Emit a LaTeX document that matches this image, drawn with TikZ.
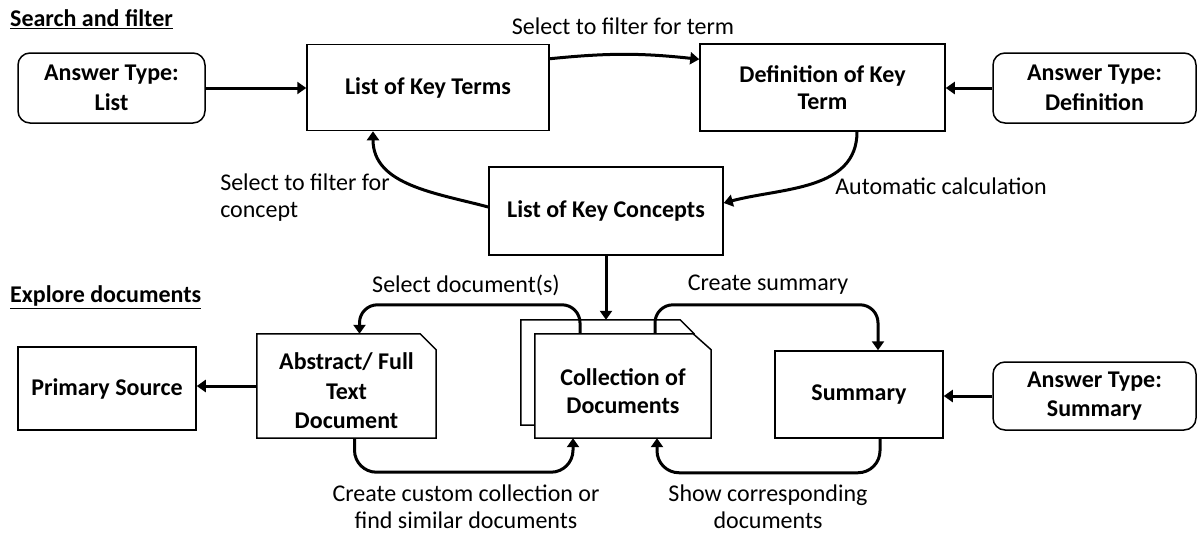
\documentclass[tikz,border=0pt]{standalone}
\usepackage{fontspec}
\setmainfont{Carlito}
\usetikzlibrary{arrows.meta,backgrounds}
\begin{document}
\begin{tikzpicture}[x=1pt,y=1pt,
  box/.style={draw,line width=1.5pt,inner sep=0pt,align=center,font=\fontsize{24}{29.5}\selectfont\bfseries},
  rbox/.style={box,rounded corners=12pt},
  shp/.style={inner sep=0pt},
  txt/.style={inner sep=0pt,align=center,font=\fontsize{24}{29.5}\selectfont\bfseries},
  outline/.style={line width=1.5pt,fill=white},
  arr/.style={line width=3pt,-{Triangle[length=9pt,width=12pt]}},
  lbl/.style={inner sep=0pt,align=center,font=\fontsize{24}{27}\selectfont},
  head/.style={inner sep=0pt,anchor=west,font=\fontsize{24}{28}\selectfont\bfseries}]
\useasboundingbox (0,0) rectangle (1204,-533);

\node[head] (h1) at (10,-19) {\underline{Search and filter}};
\node[head] (h2) at (10,-297) {\underline{Explore documents}};

\node[rbox,minimum width=187,minimum height=70] (al) at (111.5,-88) {Answer Type:\\List};
\node[box,minimum width=242,minimum height=86] (lkt) at (428,-87.5) {List of Key Terms};
\node[box,minimum width=245,minimum height=87,font=\fontsize{24}{27}\selectfont\bfseries] (dk) at (822.5,-87.5) {Definition of Key\\Term};
\node[rbox,minimum width=203,minimum height=70] (ad) at (1094.5,-88) {Answer Type:\\Definition};
\node[box,minimum width=234,minimum height=88] (lkc) at (606,-211) {List of Key Concepts};
\node[box,minimum width=178,minimum height=83] (ps) at (107,-388.5) {Primary Source};
\node[shp,minimum width=179,minimum height=104] (abs) at (346.5,-386) {};
\node[shp,minimum width=173,minimum height=105] (collb) at (607.5,-372.5) {};
\node[shp,minimum width=176,minimum height=104] (collf) at (623,-386) {};
\node[box,minimum width=168,minimum height=87] (sum) at (859,-394.5) {Summary};
\node[rbox,minimum width=203,minimum height=68] (as) at (1094.5,-396) {Answer Type:\\Summary};

\begin{scope}[on background layer]
\draw[outline] (collb.south west) -- (collb.north west) -- ([xshift=-14pt]collb.north east) -- ([yshift=-14pt]collb.north east) -- (collb.south east) -- cycle;
\draw[outline] (collf.south west) -- (collf.north west) -- ([xshift=-18pt]collf.north east) -- ([yshift=-16pt]collf.north east) -- (collf.south east) -- cycle;
\draw[outline] (abs.south west) -- (abs.north west) -- ([xshift=-16pt]abs.north east) -- ([yshift=-16pt]abs.north east) -- (abs.south east) -- cycle;
\end{scope}
\node[txt] (abst) at ([yshift=-5pt]abs.center) {Abstract/ Full\\Text\\Document};
\node[txt,font=\fontsize{24}{27.5}\selectfont\bfseries] (collt) at ([yshift=-5pt]collf.center) {Collection of\\Documents};

\draw[arr] (al.east) -- (al.east -| lkt.west);
\draw[arr] (ad.west) -- (ad.west -| dk.east);
\draw[arr] ([yshift=-15pt]lkt.north east) to[bend left=6] ([yshift=-16pt]dk.north west);
\draw[arr] ([xshift=34.5pt]dk.south) to[out=-90,in=15] ([yshift=8pt]lkc.east);
\draw[arr] ([yshift=4pt]lkc.west) to[out=165,in=-90] ([xshift=-55pt]lkt.south);
\draw[arr] (lkc.south) -- (lkc.south |- collb.north);
\draw[arr,rounded corners=18pt] ([xshift=-43pt]collf.north) -- ++(0,29) -| ([xshift=13pt]abs.north);
\draw[arr,rounded corners=18pt] ([xshift=32pt]collf.north) -- ++(0,29) -| ([xshift=19pt]sum.north);
\draw[arr,rounded corners=22pt] ([xshift=21pt]sum.south) -- ++(0,-34) -| ([xshift=34pt]collf.south);
\draw[arr,rounded corners=22pt] ([xshift=8pt]abs.south) -- ++(0,-34) -| ([xshift=-50pt]collf.south);
\draw[arr] (abs.west) -- (abs.west -| ps.east);
\draw[arr] (as.west) -- (as.west -| sum.east);

\node[lbl] (l1) at (623,-26) {Select to filter for term};
\node[lbl] (l2) at (941,-186) {Automatic calculation};
\node[lbl,align=left] (l3) at (305,-198) {Select to filter for\\concept};
\node[lbl] (l4) at (466,-285) {Select document(s)};
\node[lbl] (l5) at (768,-285) {Create summary};
\node[lbl] (l6) at (466,-507) {Create custom collection or\\find similar documents};
\node[lbl] (l7) at (768,-507) {Show corresponding\\documents};
\end{tikzpicture}
\end{document}
